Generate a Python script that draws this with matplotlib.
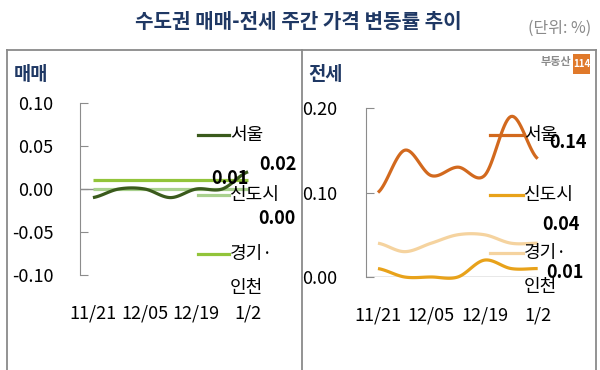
import numpy as np
import matplotlib
matplotlib.use("Agg")
import matplotlib.pyplot as plt
from matplotlib.lines import Line2D
from matplotlib.patches import Rectangle

plt.rcParams['font.family'] = ['Noto Sans CJK KR', 'DejaVu Sans']

# ==========================
# DATA
# ==========================
weeks = ["11/21", "11/28", "12/05", "12/12", "12/19", "12/26", "1/2"]
tick_labels = ["11/21", "12/05", "12/19", "1/2"]
series_names = ["서울", "신도시", "경기·\n인천"]

sale_seoul = [-0.01, 0.00, 0.00, -0.01, 0.00, 0.00, 0.02]
sale_new = [0.00, 0.00, 0.00, 0.00, 0.00, 0.00, 0.00]
sale_gyeonggi = [0.01, 0.01, 0.01, 0.01, 0.01, 0.01, 0.01]

rent_seoul = [0.10, 0.15, 0.12, 0.13, 0.12, 0.19, 0.14]
rent_new = [0.01, 0.00, 0.00, 0.00, 0.02, 0.01, 0.01]
rent_gyeonggi = [0.04, 0.03, 0.04, 0.05, 0.05, 0.04, 0.04]

sale_colors = ["#3a5a1c", "#a9d18e", "#92c43a"]
rent_colors = ["#d2691e", "#e8a21a", "#f5d39f"]

NAVY = "#1f3864"
GRID = "#8c8c8c"
W, H = 600, 370


def fx(px):
    return px / W


def fy(py):
    return 1 - py / H


def smooth(y, n=20):
    # catmull-rom style smoothing, like excel "smoothed line"
    y = np.asarray(y, dtype=float)
    x = np.arange(len(y), dtype=float)
    p = np.concatenate([[y[0]], y, [y[-1]]])
    xs, ys = [], []
    for i in range(len(y) - 1):
        p0, p1, p2, p3 = p[i], p[i + 1], p[i + 2], p[i + 3]
        t = np.linspace(0, 1, n, endpoint=(i == len(y) - 2))
        yy = 0.5 * ((2 * p1) + (-p0 + p2) * t + (2 * p0 - 5 * p1 + 4 * p2 - p3) * t ** 2
                    + (-p0 + 3 * p1 - 3 * p2 + p3) * t ** 3)
        xs.append(x[i] + t)
        ys.append(yy)
    return np.concatenate(xs), np.concatenate(ys)


fig = plt.figure(figsize=(6, 3.7), dpi=100)

# ==========================
# TITLE + FRAME
# ==========================
fig.text(fx(298), fy(22), "수도권 매매-전세 주간 가격 변동률 추이", ha="center", va="center",
         fontsize=14.5, fontweight="bold", color=NAVY)
fig.text(fx(591), fy(28), "(단위: %)", ha="right", va="center", fontsize=11.5, color="#8a8a8a")

frame_kw = dict(transform=fig.transFigure, color="#8a8a8a", linewidth=1.3)
fig.add_artist(Line2D([fx(7), fx(596)], [fy(50), fy(50)], **frame_kw))
fig.add_artist(Line2D([fx(7), fx(7)], [fy(50), 0], **frame_kw))
fig.add_artist(Line2D([fx(302), fx(302)], [fy(50), 0], **frame_kw))
fig.add_artist(Line2D([fx(596), fx(596)], [fy(50), 0], **frame_kw))

fig.text(fx(14), fy(74), "매매", ha="left", va="center", fontsize=13.5, fontweight="bold", color=NAVY)
fig.text(fx(308), fy(74), "전세", ha="left", va="center", fontsize=13.5, fontweight="bold", color=NAVY)

# logo
fig.text(fx(571), fy(62), "부동산", ha="right", va="center", fontsize=8, fontweight="bold", color="#8a8a8a")
fig.add_artist(Rectangle((fx(573), fy(74)), fx(17), 20 / H, transform=fig.transFigure,
                         facecolor="#e0792a", edgecolor="none"))
fig.text(fx(581.5), fy(64), "114", ha="center", va="center", fontsize=7, fontweight="bold", color="white")


# ==========================
# PANELS
# ==========================
def draw_panel(rect, series, colors, xlim, ylim, yticks, ypad, xpad):
    ax = fig.add_axes(rect)
    for vals, c in zip(series, colors):
        sx, sy = smooth(vals)
        ax.plot(sx, sy, color=c, linewidth=2.3, solid_capstyle="butt", zorder=3, clip_on=False)
    ax.hlines(0, xlim[0], len(weeks) - 1, color=GRID, linewidth=1, zorder=2)
    ax.set_xlim(*xlim)
    ax.set_ylim(*ylim)
    ax.set_yticks(yticks)
    ax.set_yticklabels([f"{v:.2f}" for v in yticks])
    ax.set_xticks(range(0, len(weeks), 2))
    ax.set_xticklabels(tick_labels)
    for s in ["top", "right", "bottom"]:
        ax.spines[s].set_visible(False)
    ax.spines["left"].set_color(GRID)
    ax.tick_params(axis="y", direction="in", length=6, color=GRID, pad=ypad, labelsize=13)
    ax.tick_params(axis="x", length=0, pad=xpad, labelsize=13)
    ax.set_facecolor("none")
    return ax


axL = draw_panel([fx(80), fy(275), 181 / W, 172 / H],
                 [sale_gyeonggi, sale_new, sale_seoul],
                 [sale_colors[2], sale_colors[1], sale_colors[0]],
                 (-0.5, 6.5), (-0.10, 0.10), [-0.10, -0.05, 0.00, 0.05, 0.10], 19, 21.5)

axR = draw_panel([fx(366), fy(277), 185 / W, 169 / H],
                 [rent_gyeonggi, rent_new, rent_seoul],
                 [rent_colors[2], rent_colors[1], rent_colors[0]],
                 (-0.45, 6.5), (0.00, 0.20), [0.00, 0.10, 0.20], 21, 21)


# ==========================
# LEGENDS + END LABELS
# ==========================
def legend(x0, x1, ys, colors):
    for name, yy, c in zip(series_names, ys, colors):
        fig.add_artist(Line2D([fx(x0), fx(x1)], [fy(yy), fy(yy)], transform=fig.transFigure,
                              color=c, linewidth=2.3))
        for k, part in enumerate(name.split("\n")):
            fig.text(fx(x1 + 1), fy(yy + 34 * k), part, ha="left", va="center", fontsize=13)


legend(198, 229, [135, 195, 254], sale_colors)
legend(490, 523, [135, 195, 253], rent_colors)

lab_kw = dict(ha="center", va="center", fontsize=13, fontweight="bold", color="black")
fig.text(fx(278), fy(165), f"{sale_seoul[-1]:.2f}", **lab_kw)
fig.text(fx(230), fy(178), f"{sale_gyeonggi[-1]:.2f}", **lab_kw)
fig.text(fx(277), fy(218), f"{sale_new[-1]:.2f}", **lab_kw)

fig.text(fx(568), fy(142), f"{rent_seoul[-1]:.2f}", **lab_kw)
fig.text(fx(561), fy(224), f"{rent_gyeonggi[-1]:.2f}", **lab_kw)
fig.text(fx(565), fy(273), f"{rent_new[-1]:.2f}", **lab_kw)

fig.savefig("out.png", dpi=100)
